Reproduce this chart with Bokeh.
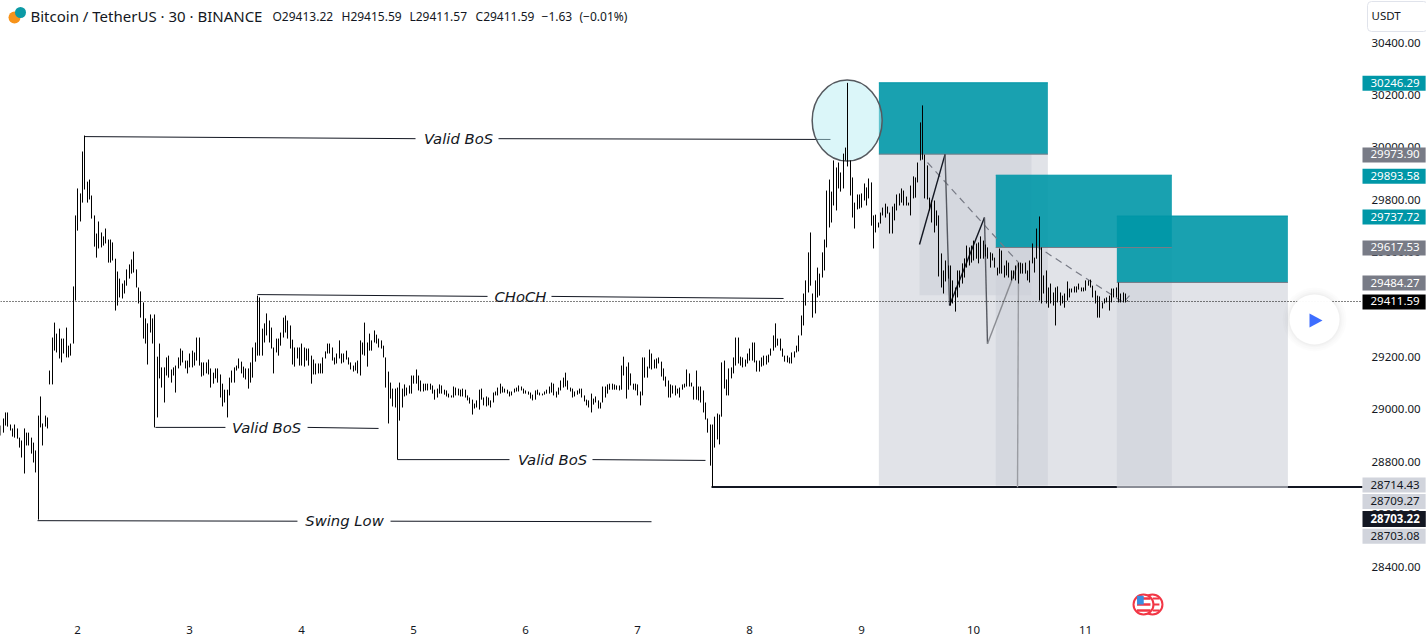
from math import floor
from bokeh.plotting import figure
from bokeh.embed import file_html
from bokeh.resources import INLINE
from bokeh.models import Range1d, FixedTicker, NumeralTickFormatter, PrintfTickFormatter, Label
from bokeh.core.properties import value

FONT = "Noto Sans"
INK = "#131722"

# ---- series: 30-minute bars (prices) ----
first_bar_day = 1.3188
bars_per_day = 48
highs_1 = [
28938,28965,28988,28988,28942,28927,28942,28927,28892,28881,
28927,28911,28911,28892,28873,28843,28976,29049,28946,28976,
28969,29148,29274,29331,29289,29308,29270,29270,29312,29243,
29251,29469,29740,29843,29824,29984,30045,29869,29877,29816,
29740,29671,29717,29675,29660,29690,29648,29648,29637,29575,
29526,29499,29480,29492,29534,29553,29572,29602,29534,29465,
29450,29408,29347,29328,29362,29347,29362,29201,29251,29160,
29160,29198,29205,29152,29160,29167,29198,29232,29224,29186,
29186,29213,29224,29217,29274,29274,29179,29179,29179,29190,
29156,29140,29156,29156,29133,29098,29075,29075,29121,29148,
29160,29167,29194,29182,29163,29156,29156,29179,29236,29255,
29434,29427,29308,29328,29366,29339,29312,29236,29270,29270,
29293,29350,29358,29339,29320,29266,29236,29236,29236,29251,
29236,29232,29232,29205,29190,29175,29175,29175,29198,29221,
29251,29251,29236,29198,29213,29263,29213,29213,29224,29198,
29179,29167,29179,29186,29263,29255,29331,29255,29289,29263,
29301,29285,29270,29263,29243,29198,29144,29102,29079,29079,
29083,29102,29079,29095,29083,29091,29129,29129,29152,29129,
29110,29098,29098,29098,29098,29091,29075,29079,29095,29091,
29075,29072,29060,29053,29087,29083,29079,29075,29079,29075,
29053,29045,29037,29022,29034,29075]
lows_1 = [
28900,28911,28938,28934,28919,28896,28892,28888,28854,28816,
28755,28862,28862,28831,28797,28759,28579,28931,28862,28934,
28927,29095,29095,29224,29217,29194,29179,29213,29198,29198,
29205,29251,29415,29682,29717,29789,29839,29789,29801,29728,
29621,29579,29614,29618,29625,29633,29560,29560,29568,29377,
29396,29427,29423,29442,29472,29499,29518,29522,29465,29404,
29350,29270,29251,29171,29293,29251,28931,28969,29118,29083,
29026,29129,29121,29102,29129,29064,29156,29167,29179,29156,
29137,29160,29160,29167,29186,29167,29125,29129,29137,29133,
29083,29098,29118,29102,29045,29011,29026,28969,29053,29102,
29102,29148,29156,29137,29121,29114,29079,29102,29121,29182,
29205,29205,29205,29255,29282,29255,29232,29137,29217,29205,
29243,29274,29293,29270,29232,29171,29163,29194,29167,29167,
29163,29186,29167,29098,29133,29133,29137,29137,29137,29194,
29213,29213,29186,29171,29175,29194,29175,29179,29190,29171,
29152,29144,29148,29137,29129,29209,29205,29163,29224,29224,
29255,29251,29236,29232,29198,29083,28946,29041,29011,29007,
28808,28957,29007,29049,29053,29060,29060,29098,29098,29072,
29068,29068,29072,29072,29075,29060,29037,29045,29060,29060,
29056,29049,29045,29045,29045,29053,29053,29049,29049,29045,
29034,29022,28980,29003,29007,28999]
highs_2 = [
29079,29045,29049,29045,29034,29064,29068,29083,29098,29087,
29079,29075,29068,29068,29079,29083,29091,29087,29079,29072,
29068,29064,29056,29072,29075,29064,29060,29068,29075,29087,
29102,29098,29068,29083,29110,29121,29140,29110,29083,29079,
29068,29072,29079,29079,29053,29037,29034,29060,29041,29049,
29034,29026,29087,29087,29095,29098,29098,29095,29091,29091,
29167,29201,29163,29179,29137,29098,29098,29095,29068,29198,
29198,29163,29228,29213,29190,29194,29198,29182,29156,29125,
29110,29095,29091,29091,29079,29083,29095,29098,29152,29137,
29102,29087,29148,29087,29087,29072,29026,28965,28942,28942,
28972,28984,28980,29179,29186,29114,29156,29160,29198,29274,
29274,29201,29198,29190,29213,29232,29255,29255,29186,29186,
29198,29205,29205,29209,29232,29282,29328,29270,29270,29232,
29205,29205,29198,29217,29221,29243,29282,29358]
lows_2 = [
29037,29015,29011,29015,29007,29026,29053,29053,29060,29064,
29064,29060,29049,29053,29064,29068,29068,29072,29060,29060,
29056,29041,29034,29037,29056,29053,29053,29056,29060,29060,
29064,29053,29045,29056,29072,29083,29087,29075,29068,29045,
29049,29056,29060,29045,29030,29015,29007,28988,29018,29026,
29003,29003,29026,29045,29060,29075,29075,29075,29075,29072,
29075,29129,29041,29075,29091,29075,29072,29053,29015,29053,
29121,29121,29156,29152,29156,29156,29175,29125,29110,29087,
29045,29045,29060,29053,29060,29045,29075,29083,29087,29087,
29087,29037,29037,29034,29026,28988,28961,28911,28785,28703,
28854,28885,28866,28972,29079,29053,29053,29118,29137,29167,
29175,29167,29160,29163,29175,29186,29186,29179,29144,29144,
29163,29167,29171,29179,29205,29224,29236,29243,29224,29201,
29182,29179,29175,29175,29198,29217,29221,29282]
highs_3 = [
29442,29492,29599,29675,29442,29492,29541,29518,29599,29648,
29835,29877,29831,29950,29923,29942,29904,29976,29999,30246,
29950,29885,29789,29820,29820,29824,29862,29847,29881,29866,
29740,29743,29713,29751,29770,29785,29774,29751,29774,29785,
29820,29824,29843,29835,29812,29789,29854,29889,29885,29942,
30095,30160,29972,29931,29808,29797,29797,29759,29740,29595,
29530,29568,29549,29549,29492,29465,29530,29530,29557,29576,
29625,29618,29625,29644,29633,29637,29660,29644,29629,29618,
29599,29595,29579,29541,29614,29606,29549,29568,29560,29530,
29530,29549,29560,29560,29557,29560,29530,29568,29633,29579,
29690,29736,29618,29511,29530,29465,29480,29446,29465,29469,
29446,29434,29442,29488,29461,29461,29469,29469,29480,29465,
29465,29492,29492,29495,29472,29453,29434,29431,29408,29423,
29427,29434,29461,29461,29465,29484,29442,29446,29442,29416]
lows_3 = [
29320,29396,29446,29472,29350,29366,29427,29434,29503,29530,
29618,29694,29713,29778,29759,29843,29831,29843,29950,29927,
29816,29732,29690,29763,29766,29770,29797,29778,29805,29701,
29614,29675,29694,29709,29740,29732,29747,29671,29671,29721,
29759,29778,29789,29778,29778,29778,29740,29805,29808,29866,
29950,29953,29805,29801,29759,29713,29675,29701,29507,29465,
29442,29488,29499,29396,29404,29373,29427,29465,29480,29503,
29541,29549,29560,29568,29575,29557,29575,29575,29583,29575,
29541,29568,29541,29511,29518,29518,29503,29511,29503,29492,
29499,29492,29480,29518,29518,29518,29492,29484,29557,29522,
29575,29415,29404,29442,29404,29388,29404,29396,29320,29408,
29396,29404,29388,29415,29427,29446,29446,29446,29457,29450,
29450,29453,29472,29465,29427,29404,29350,29350,29385,29404,
29408,29377,29408,29427,29427,29408,29408,29408,29408,29412]
highs = highs_1 + highs_2 + highs_3
lows = lows_1 + lows_2 + lows_3

# ---- axes ----
day_ticks = [2, 3, 4, 5, 6, 7, 8, 9, 10, 11]
price_ticks = [28400, 28600, 28800, 29000, 29200, 29400, 29600, 29800, 30000, 30200, 30400]

# ---- price tags on the scale ----
tag_texts = ["30246.29", "29973.90", "29893.58", "29737.72", "29617.53", "29484.27", "29411.59",
             "28714.43", "28709.27", "28703.22", "28703.08"]
tag_prices = [30245, 29971, 29890, 29734, 29616, 29482, 29410, 28711, 28648, 28581, 28516]
tag_fills = ["#0097a7", "#787b86", "#0097a7", "#0097a7", "#787b86", "#787b86", "#000000",
             "#d1d4dc", "#d1d4dc", "#131722", "#d1d4dc"]
tag_inks = ["#ffffff"] * 7 + [INK, INK, "#ffffff", INK]
tag_bold = [False] * 9 + [True, False]

# ---- drawings ----
pos_left = [9.155, 10.199, 11.280]
pos_right = [10.664, 11.771, 12.807]
pos_top = [30246.29, 29893.58, 29737.72]
pos_entry = [29973.90, 29617.53, 29484.27]
pos_stop = [28709.27, 28709.27, 28703.08]
stop_price = 28703.22

note_texts = ["Valid BoS", "CHoCH", "Valid BoS", "Valid BoS", "Swing Low"]
note_days = [5.402, 5.955, 3.688, 6.241, 4.384]
note_prices = [30033, 29431, 28931, 28808, 28576]
note_lines_x0 = [2.0625, 5.759, 3.607, 6.232, 2.696, 4.054, 4.857, 6.598, 1.643, 4.795]
note_lines_x1 = [5.018, 8.723, 5.661, 8.304, 3.321, 4.688, 5.857, 7.607, 3.964, 7.125]
note_lines_y0 = [30041, 30033, 29438, 29431, 28931, 28931, 28808, 28808, 28575, 28573]
note_lines_y1 = [30033, 30030, 29431, 29423, 28931, 28927, 28808, 28805, 28573, 28571]

zig_days = [9.518, 9.746, 9.786, 10.098, 10.125, 10.402, 10.393]
zig_prices = [29629, 29973, 29396, 29732, 29250, 29560, 28703]
zig_colors = ["#131722", "#555860", "#131722", "#555860", "#8a8c92", "#9a9ca2"]

dash_a_days = [9.589, 10.402]
dash_a_prices = [29942, 29560]
dash_b_days = [10.554, 11.339, 11.393]
dash_b_prices = [29625, 29408, 29434]

last_price = 29411.59
scale_day = 13.4732

x0, x1 = 1.3125, 14.04464
y0, y1 = 28201.6, 30560.4
PX_PER_DAY = 112


def snap(d):
    return x0 + floor((d - x0) * PX_PER_DAY) / PX_PER_DAY


def day_at(px):
    return 2 + (px - 77) / PX_PER_DAY


def price_at(py):
    return y1 - py * 3.81679


p = figure(width=1426, height=640, x_range=Range1d(x0, x1), y_range=Range1d(y0, y1),
           output_backend="svg", toolbar_location=None, tools="",
           min_border_left=0, min_border_top=0, min_border_right=0, min_border_bottom=22,
           y_axis_location="right", background_fill_color="#ffffff", border_fill_color="#ffffff",
           outline_line_color=None)
p.grid.visible = False

for ax in (p.xaxis[0], p.yaxis[0]):
    ax.axis_line_color = None
    ax.major_tick_line_color = None
    ax.minor_tick_line_color = None
    ax.major_tick_out = 0
    ax.major_tick_in = 0
    ax.minor_tick_out = 0
    ax.minor_tick_in = 0
    ax.major_label_text_color = INK
    ax.major_label_text_font = FONT
    ax.major_label_text_font_size = "11.5px"
p.yaxis[0].level = "underlay"
p.xaxis[0].ticker = FixedTicker(ticks=day_ticks)
p.xaxis[0].formatter = PrintfTickFormatter(format="%d")
p.xaxis[0].major_label_standoff = 7
p.yaxis[0].ticker = FixedTicker(ticks=price_ticks)
p.yaxis[0].formatter = NumeralTickFormatter(format="0.00")
p.yaxis[0].major_label_standoff = -55

# stop line under the position tools
p.line([7.661, scale_day], [stop_price] * 2, line_color=INK, line_width=2)

# gray risk zone of each position, and the gray frame behind the zig-zag
p.quad(left=pos_left, right=pos_right, bottom=pos_stop, top=pos_entry,
       fill_color="#cdd0d9", fill_alpha=0.6, line_color=None)
p.quad(left=[9.518], right=[10.518], bottom=[29435], top=[29973.9],
       fill_color="#cdd0d9", fill_alpha=0.6, line_color=None)
# teal target zone of each position
p.quad(left=pos_left, right=pos_right, bottom=pos_entry, top=pos_top,
       fill_color="#0097a7", fill_alpha=0.9, line_color=None)
p.segment(pos_left, pos_entry, pos_right, pos_entry, line_color="#787b86", line_width=1)
p.segment(pos_left, pos_top, pos_right, pos_top, line_color="#0097a7", line_width=1)
p.line([pos_left[2], pos_right[2]], [stop_price] * 2, line_color="#8a8d96", line_width=2)

# note lines
p.segment(note_lines_x0, note_lines_y0, note_lines_x1, note_lines_y1, line_color=INK, line_width=1)

# circled high
p.ellipse(x=[8.872], y=[30102], width=[0.625], height=[309],
          fill_color="#b2ebf2", fill_alpha=0.47, line_color="#55595f", line_width=1.5)

# dashed trend lines
p.line(dash_a_days, dash_a_prices, line_color="#787b86", line_dash="7 5", line_width=1.2)
p.line(dash_b_days, dash_b_prices, line_color="#787b86", line_dash="7 5", line_width=1.2)

# zig-zag
p.segment(zig_days[:-1], zig_prices[:-1], zig_days[1:], zig_prices[1:],
          line_color=zig_colors, line_width=1.4)

# last-price line
p.line([x0, scale_day], [last_price, last_price], line_color="#000000", line_dash="1 2", line_width=1)

# bars
bar_days = [snap(first_bar_day + i / bars_per_day) for i in range(len(highs))]
p.segment(bar_days, lows, bar_days, highs, line_color="#000000", line_width=1)

# note texts
p.text(note_days, note_prices, text=note_texts, text_font=value("DejaVu Sans"),
       text_font_size="14.8px", text_font_style="italic", text_color=INK,
       text_align="center", text_baseline="middle")

# title row
p.text([day_at(30)], [price_at(16)], text=["Bitcoin / TetherUS · 30 · BINANCE"], text_font=value(FONT),
       text_font_size="15px", text_color=INK, text_baseline="middle")
ohlc_texts = ["O29413.22", "H29415.59", "L29411.57", "C29411.59", "−1.63", "(−0.01%)"]
ohlc_days = [3.741, 4.357, 4.964, 5.554, 6.143, 6.482]
p.text(ohlc_days, [price_at(16)] * 6, text=ohlc_texts, text_font=value(FONT), text_font_size="12px",
       text_color=INK, text_baseline="middle")
p.scatter([day_at(14)], [price_at(17)], size=12, marker="circle", fill_color="#f7931a", line_color=None)
p.scatter([day_at(20)], [price_at(12)], size=11, marker="circle", fill_color="#0c9aa5", line_color=None)

# play button
for s, a in zip([64, 60, 56, 53], [0.012, 0.012, 0.015, 0.02]):
    p.scatter([13.045], [29343], size=s, marker="circle", fill_color="#000000", fill_alpha=a, line_color=None)
p.scatter([13.045], [29343], size=50, marker="circle", fill_color="#ffffff", fill_alpha=0.97, line_color=None)
p.patch([13.000, 13.116, 13.000], [29366, 29339, 29312], fill_color="#3d6dff", line_color=None)

# flag marker
p.scatter([11.598], [28255], size=20, marker="circle", fill_color="#ffffff", line_color="#f23645", line_width=2)
p.scatter([11.518], [28255], size=20, marker="circle", fill_color="#ffffff", line_color="#f23645", line_width=2)
flag_y = [28278, 28255, 28232]
p.segment([11.46] * 3, flag_y, [11.58] * 3, flag_y, line_color="#f23645", line_width=2.5)
p.segment([11.60] * 3, flag_y, [11.66] * 3, flag_y, line_color="#f23645", line_width=2)
p.quad(left=[11.46], right=[11.52], bottom=[28255], top=[28288], fill_color="#3a8ce0", line_color=None)

# price tags on the scale
for t, pr, f, ink, b in zip(tag_texts, tag_prices, tag_fills, tag_inks, tag_bold):
    p.add_layout(Label(x=day_at(1362), y=pr, text=t, text_font=FONT, text_font_size="11.5px", text_color=ink,
                       text_font_style="bold" if b else "normal", text_align="left", text_baseline="middle",
                       background_fill_color=f, padding=(8, 6, 3, 4), level="overlay"))

p.add_layout(Label(x=day_at(1367), y=price_at(16), text="USDT", text_font=FONT,
                   text_font_size="11.5px", text_color=INK, text_align="left", text_baseline="middle",
                   background_fill_color="#ffffff", border_line_color="#e0e3eb",
                   border_radius=4, padding=(4, 27, 7, 8), level="overlay"))

open("out.html", "w").write(file_html(p, INLINE))
